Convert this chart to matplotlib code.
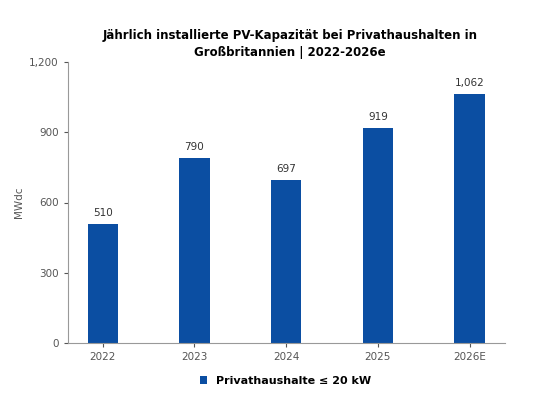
import matplotlib.pyplot as plt

years = ['2022', '2023', '2024', '2025', '2026E']
capacity = [510, 790, 697, 919, 1062]
bar_color = '#0b4ea2'

fig = plt.figure(figsize=(5.6, 4), dpi=100)
ax = fig.add_axes([0.121, 0.1425, 0.78, 0.7025])

bars = ax.bar(years, capacity, width=0.33, color=bar_color, label='Privathaushalte \u2264 20 kW')
for b, v in zip(bars, capacity):
    ax.text(b.get_x() + b.get_width() / 2, v + 25, f'{v:,}', ha='center', va='bottom',
            fontsize=7.5, color='#333333')

ax.set_ylim(0, 1200)
ax.set_yticks([0, 300, 600, 900, 1200])
ax.set_yticklabels(['0', '300', '600', '900', '1,200'])
ax.set_ylabel('MWdc', fontsize=7.5, color='#555555')
ax.tick_params(labelsize=7.5, colors='#555555', length=3)
for s in ['top', 'right']:
    ax.spines[s].set_visible(False)
for s in ['left', 'bottom']:
    ax.spines[s].set_color('#999999')

fig.text(0.518, 0.89, 'Jährlich installierte PV-Kapazität bei Privathaushalten in\nGroßbritannien | 2022-2026e',
         ha='center', va='center', fontsize=8.5, fontweight='bold', linespacing=1.4)
fig.legend(loc='lower center', bbox_to_anchor=(0.51, 0.01), frameon=False,
           handlelength=0.7, handleheight=0.7, prop={'weight': 'bold', 'size': 8})

fig.savefig('out.png', dpi=100)
